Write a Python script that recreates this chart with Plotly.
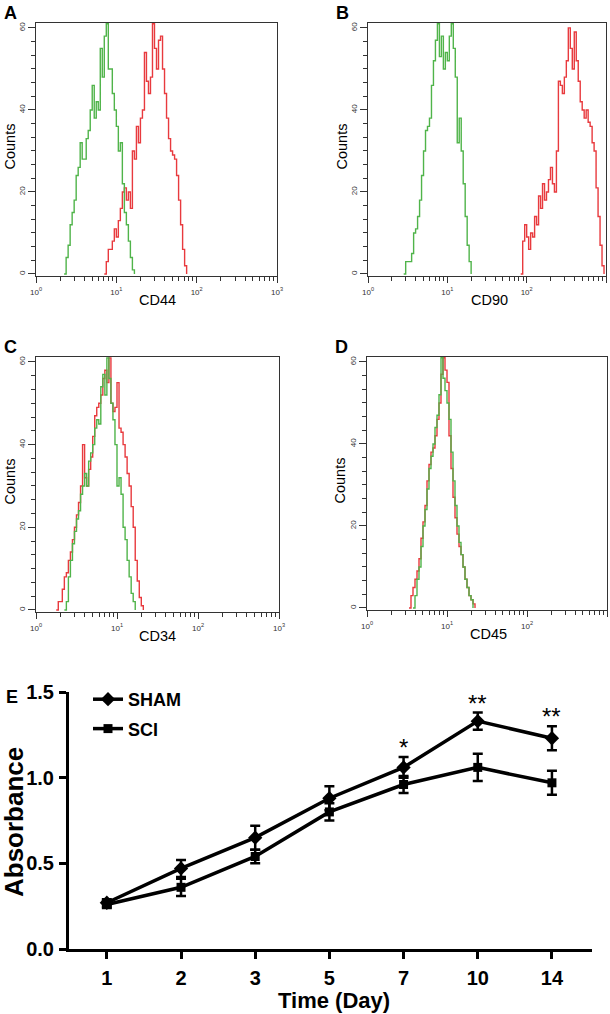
import plotly.graph_objects as go

W, H = 610, 1014
CH = 0.025  # flow channel width in decades (log10 units)

# ---------------- Flow cytometry histograms (counts per channel) ----------------
# each: start exponent (log10 intensity of first channel), counts
cd44_iso_start = 0.35
cd44_iso = [0, 4, 7, 12, 15, 18, 24, 26, 32, 28, 28, 33, 35, 40, 46, 38, 42, 40, 55, 48,
            58, 61, 50, 50, 44, 40, 36, 30, 32, 22, 15, 12, 8, 4, 1, 0]
cd44_ab_start = 0.85
cd44_ab = [0, 3, 6, 6, 8, 11, 9, 13, 16, 20, 21, 18, 20, 16, 30, 28, 36, 32, 38, 40,
           54, 47, 44, 48, 61, 55, 50, 57, 58, 50, 44, 38, 33, 30, 29, 28, 24, 18, 12, 6, 2, 0]

cd90_iso_start = 0.45
cd90_iso = [0, 3, 3, 3, 5, 10, 11, 14, 18, 24, 30, 35, 36, 38, 46, 52, 57, 61, 53, 58,
            50, 54, 52, 58, 61, 55, 48, 32, 38, 30, 22, 14, 7, 3, 0]
cd90_ab_start = 1.925
cd90_ab = [0, 8, 12, 9, 6, 10, 9, 14, 12, 19, 16, 22, 18, 20, 23, 26, 22, 20, 30, 47,
           46, 44, 48, 52, 60, 55, 50, 59, 52, 47, 42, 40, 38, 40, 37, 36, 32, 30, 21, 14, 7, 2, 0]

cd34_iso_start = 0.35
cd34_iso = [0, 2, 8, 12, 16, 19, 22, 24, 28, 30, 33, 30, 36, 38, 40, 44, 46, 45, 54, 57,
            52, 61, 56, 50, 46, 40, 30, 32, 28, 20, 17, 12, 8, 4, 2, 0]
cd34_ab_start = 0.25
cd34_ab = [0, 2, 2, 5, 8, 9, 12, 14, 17, 20, 23, 26, 30, 40, 32, 30, 34, 37, 42, 47,
           49, 50, 52, 56, 58, 55, 61, 50, 48, 49, 55, 44, 43, 40, 37, 33, 30, 25, 20, 12, 7, 3, 1, 0]

cd45_iso_start = 0.575
cd45_iso = [0, 3, 7, 10, 15, 20, 24, 29, 34, 37, 40, 44, 47, 52, 61, 56, 53, 50, 46, 38,
            31, 25, 20, 16, 13, 10, 7, 5, 3, 2, 0]
cd45_ab_start = 0.525
cd45_ab = [0, 3, 5, 7, 9, 12, 17, 21, 25, 31, 35, 38, 39, 42, 46, 50, 57, 61, 58, 55,
           42, 34, 27, 22, 18, 15, 13, 10, 7, 5, 3, 2, 1, 0]

hist_letters = ["A", "B", "C", "D"]
hist_markers = ["CD44", "CD90", "CD34", "CD45"]
hist_iso = [(cd44_iso_start, cd44_iso), (cd90_iso_start, cd90_iso),
            (cd34_iso_start, cd34_iso), (cd45_iso_start, cd45_iso)]
hist_ab = [(cd44_ab_start, cd44_ab), (cd90_ab_start, cd90_ab),
           (cd34_ab_start, cd34_ab), (cd45_ab_start, cd45_ab)]
decade_vals = [1, 10, 100, 1000]
decade_text = ["10<sup>0</sup>", "10<sup>1</sup>", "10<sup>2</sup>", "10<sup>3</sup>"]
count_ticks = [0, 20, 40, 60]

# ---------------- Panel E: proliferation ----------------
days = ["1", "2", "3", "5", "7", "10", "14"]
sham_mean = [0.27, 0.47, 0.65, 0.88, 1.06, 1.33, 1.23]
sham_err = [0.02, 0.05, 0.07, 0.07, 0.06, 0.05, 0.07]
sci_mean = [0.26, 0.36, 0.54, 0.80, 0.96, 1.06, 0.97]
sci_err = [0.02, 0.05, 0.04, 0.05, 0.05, 0.08, 0.07]
significance = ["", "", "", "", "*", "**", "**"]
abs_ticks = [0.0, 0.5, 1.0, 1.5]

FONT = "Arial, Liberation Sans, sans-serif"
GREEN = "#50b44a"
RED = "#e83a3e"


def xdom(a, b):
    return [a / W, b / W]


def ydom(top, bottom):
    return [1 - bottom / H, 1 - top / H]


# pixel boxes of the panels (left, right, top, bottom)
boxes = [(36, 277, 23, 276), (368, 606, 23, 276), (36, 279, 357, 612), (367, 607, 357, 610)]

fig = go.Figure()
layout = dict(template="none", width=W, height=H, margin=dict(l=0, r=0, t=0, b=0, pad=0),
              paper_bgcolor="white", plot_bgcolor="white", showlegend=True,
              font=dict(family=FONT, color="black"))
annotations = []


def hist_xy(start, counts):
    xs = [10 ** (start + i * CH) for i in range(len(counts))]
    return xs, counts


for i in range(4):
    n = i + 1
    xa = "x" if n == 1 else f"x{n}"
    ya = "y" if n == 1 else f"y{n}"
    for (start, counts), col in ((hist_ab[i], RED), (hist_iso[i], GREEN)):
        xs, ys = hist_xy(start, counts)
        fig.add_trace(go.Scatter(x=xs, y=ys, mode="lines", line=dict(color=col, width=1.4, shape="hv"),
                                 xaxis=xa, yaxis=ya, showlegend=False, hoverinfo="skip"))
    l, r, t, b = boxes[i]
    key = "" if n == 1 else str(n)
    layout["xaxis" + key] = dict(
        domain=xdom(l, r), anchor=ya, type="log", range=[0, 3], automargin=False,
        showline=True, linecolor="#333", linewidth=1, mirror=True, showgrid=False, zeroline=False,
        tickvals=decade_vals, ticktext=decade_text, ticks="outside", ticklen=6, tickwidth=1,
        tickcolor="#333", tickfont=dict(size=8, color="#333"), ticklabelstandoff=2,
        minor=dict(tickvals=[m * d for d in (1, 10, 100) for m in range(2, 10)],
                   ticks="outside", ticklen=4, tickcolor="#333", tickwidth=1, showgrid=False),
    )
    layout["yaxis" + key] = dict(
        domain=ydom(t, b), anchor=xa, range=[-0.5, 61.2], automargin=False,
        showline=True, linecolor="#333", linewidth=1, mirror=True, showgrid=False, zeroline=False,
        tickvals=count_ticks, ticks="outside", ticklen=7, tickwidth=1, tickcolor="#333",
        tickangle=-90, tickfont=dict(size=8, color="#333"),
        minor=dict(dtick=20 / 6, ticks="outside", ticklen=4, tickcolor="#333", tickwidth=1, showgrid=False),
    )
    # panel letter, axis titles
    annotations.append(dict(text=hist_letters[i], x=(l - 26) / W, y=1 - (t - 10) / H, xref="paper", yref="paper",
                            showarrow=False, font=dict(size=18, weight="bold"), xanchor="center", yanchor="middle"))
    annotations.append(dict(text="Counts", x=(l - 27) / W, y=1 - ((t + b) / 2 - 3) / H, xref="paper", yref="paper",
                            showarrow=False, textangle=-90, font=dict(size=14.5), xanchor="center", yanchor="middle"))
    annotations.append(dict(text=hist_markers[i], x=(l + 121) / W, y=1 - (b + 24) / H, xref="paper", yref="paper",
                            showarrow=False, font=dict(size=14.5), xanchor="center", yanchor="middle"))

# ---------------- Panel E ----------------
fig.add_trace(go.Scatter(
    x=days, y=sham_mean, name="SHAM", mode="lines+markers", xaxis="x5", yaxis="y5",
    line=dict(color="black", width=3.5), marker=dict(symbol="diamond", size=11, color="black"),
    error_y=dict(type="data", array=sham_err, color="black", thickness=2.5, width=5),
    legendgroup="a"))
fig.add_trace(go.Scatter(
    x=days, y=sci_mean, name="SCI", mode="lines+markers", xaxis="x5", yaxis="y5",
    line=dict(color="black", width=3.5), marker=dict(symbol="square", size=9, color="black"),
    error_y=dict(type="data", array=sci_err, color="black", thickness=2.5, width=5),
    legendgroup="b"))

layout["xaxis5"] = dict(
    domain=xdom(69, 592), anchor="y5", type="category", categoryorder="array", categoryarray=days,
    range=[-0.51, 6.54], automargin=False, showline=True, linecolor="black", linewidth=3,
    showgrid=False, zeroline=False, ticks="outside", ticklen=7, tickwidth=3, tickcolor="black",
    tickfont=dict(size=20, weight="bold"), ticklabelstandoff=2)
layout["yaxis5"] = dict(
    domain=ydom(692, 949), anchor="x5", range=[0, 1.5], automargin=False, showline=True,
    linecolor="black", linewidth=3, showgrid=False, zeroline=False, tickvals=abs_ticks,
    ticktext=[f"{v:.1f}" for v in abs_ticks], ticks="outside", ticklen=7, tickwidth=3,
    tickcolor="black", tickfont=dict(size=20, weight="bold"), ticklabelstandoff=1)

for idx, (m, e, s) in enumerate(zip(sham_mean, sham_err, significance)):
    if s:
        annotations.append(dict(text=s, x=idx, y=m + e, xref="x5", yref="y5", showarrow=False,
                                xanchor="center", yanchor="bottom", yshift=-6, font=dict(size=24)))

annotations.append(dict(text="E", x=12 / W, y=1 - 697 / H, xref="paper", yref="paper", showarrow=False,
                        font=dict(size=18, weight="bold"), xanchor="center", yanchor="middle"))
annotations.append(dict(text="Absorbance", x=14 / W, y=1 - 822 / H, xref="paper", yref="paper",
                        showarrow=False, textangle=-90, font=dict(size=26, weight="bold"),
                        xanchor="center", yanchor="middle"))
annotations.append(dict(text="Time (Day)", x=334 / W, y=1 - 1000 / H, xref="paper", yref="paper",
                        showarrow=False, font=dict(size=22, weight="bold"), xanchor="center", yanchor="middle"))

layout["annotations"] = annotations
layout["legend"] = dict(x=88 / W, y=1 - 681 / H, xanchor="left", yanchor="top", bgcolor="rgba(0,0,0,0)",
                        font=dict(size=18, weight="bold"), tracegroupgap=3, itemclick=False)
fig.update_layout(**layout)

fig.write_html("out.html", config={"displayModeBar": False},
               post_script="document.body.style.margin='0px';")
